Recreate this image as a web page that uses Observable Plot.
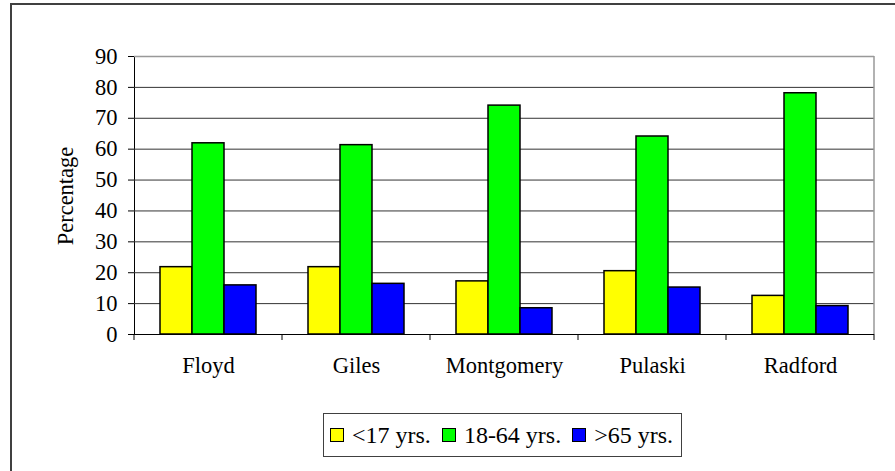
<!DOCTYPE html>
<html>
<head>
<meta charset="utf-8">
<script src="https://cdn.jsdelivr.net/npm/d3@7"></script>
<script src="https://cdn.jsdelivr.net/npm/@observablehq/plot@0.6"></script>
<style>
  html, body { margin: 0; padding: 0; background: #fff; }
  body { width: 895px; height: 471px; position: relative; overflow: hidden; font-family: "Liberation Serif", "Times New Roman", serif; }
  #frame { position: absolute; left: 10px; top: 3px; width: 900px; height: 480px; border: 2px solid #404040; box-sizing: border-box; }
  #chart { position: absolute; left: 0; top: 0; }
  #chart svg text { font-family: "Liberation Serif", "Times New Roman", serif !important; font-size: 22.5px !important; fill: #000; }
  #ylabel { position: absolute; left: 66px; top: 196px; transform: translate(-50%, -50%) rotate(-90deg); font-size: 22.5px; white-space: nowrap; line-height: 1; }
  #legend { position: absolute; left: 323px; top: 413px; width: 359px; height: 44px; border: 1px solid #404040; box-sizing: border-box;
            display: flex; align-items: center; padding-left: 6px; font-size: 24px; color: #000; background: #fff; white-space: nowrap; }
  .item { display: flex; align-items: center; margin-right: 11px; }
  .sw { width: 14px; height: 14px; border: 1.5px solid #000; box-sizing: border-box; margin-right: 8px; }
</style>
</head>
<body>
<div id="frame"></div>
<div id="chart"></div>
<div id="ylabel">Percentage</div>
<div id="legend"></div>
<script>
const counties = ["Floyd", "Giles", "Montgomery", "Pulaski", "Radford"];
const groups = ["<17 yrs.", "18-64 yrs.", ">65 yrs."];
const colors = ["#FFFF00", "#00FF00", "#0000FF"];
const under17 = [21.8, 21.8, 17.2, 20.5, 12.5];
const age18to64 = [61.9, 61.3, 74.1, 64.1, 78.1];
const over65 = [15.9, 16.4, 8.5, 15.2, 9.2];
const yTicks = [0, 10, 20, 30, 40, 50, 60, 70, 80, 90];

const series = [under17, age18to64, over65];
const data = [];
counties.forEach((c, i) => groups.forEach((g, j) => data.push({county: c, group: g, value: series[j][i]})));

const chart = Plot.plot({
  width: 895,
  height: 400,
  marginLeft: 133,
  marginRight: 20,
  marginTop: 56,
  marginBottom: 66,
  style: {fontFamily: "Liberation Serif, serif", fontSize: "22.5px", color: "#000", background: "transparent", overflow: "visible"},
  facet: {data, x: "county"},
  fx: {domain: counties, padding: 0, axis: "bottom", label: null, tickSize: 0, tickPadding: 23},
  x: {domain: groups, paddingInner: 0, paddingOuter: 0.75, axis: null},
  y: {domain: [0, 90], ticks: yTicks, tickSize: 6, tickPadding: 11, label: null, line: true},
  color: {domain: groups, range: colors},
  marks: [
    Plot.ruleY(yTicks.filter(d => d > 0 && d < 90), {stroke: "#333", strokeWidth: 1}),
    Plot.ruleY([90], {stroke: "#999", strokeWidth: 1.5}),
    Plot.barY(data, {x: "group", y: "value", fill: "group", stroke: "#000", strokeWidth: 1.5}),
    Plot.ruleY([0], {stroke: "#000", strokeWidth: 1})
  ]
});
document.getElementById("chart").appendChild(chart);

// boundary ticks and right plot-area border, positioned by the Plot scales
const fx = chart.scale("fx");
const y = chart.scale("y");
const svg = d3.select(chart);
const bounds = counties.map(c => fx.apply(c)).concat([fx.apply(counties[counties.length - 1]) + fx.bandwidth]);
const y0 = y.apply(0), y90 = y.apply(90);
svg.append("g").selectAll("line").data(bounds).join("line")
  .attr("x1", d => d).attr("x2", d => d)
  .attr("y1", y0).attr("y2", y0 + 6)
  .attr("stroke", "#000").attr("stroke-width", 1);
svg.append("line")
  .attr("x1", bounds[bounds.length - 1]).attr("x2", bounds[bounds.length - 1])
  .attr("y1", y90).attr("y2", y0)
  .attr("stroke", "#999").attr("stroke-width", 1.5);

// legend
const legend = document.getElementById("legend");
groups.forEach((g, i) => {
  const it = document.createElement("div");
  it.className = "item";
  const sw = document.createElement("div");
  sw.className = "sw";
  sw.style.background = colors[i];
  const t = document.createElement("span");
  t.textContent = g;
  it.appendChild(sw); it.appendChild(t);
  legend.appendChild(it);
});
</script>
</body>
</html>
